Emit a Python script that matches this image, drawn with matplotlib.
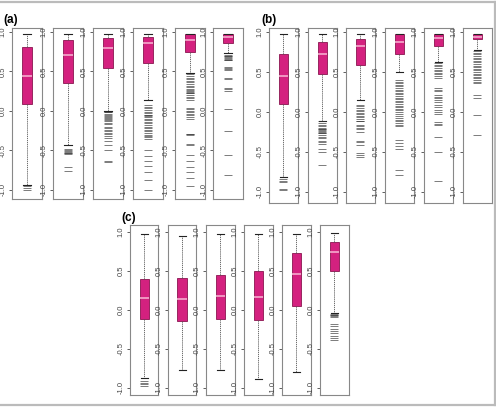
import matplotlib
matplotlib.use("Agg")
import matplotlib.pyplot as plt
from matplotlib.lines import Line2D

plt.rcParams['font.family'] = ['Liberation Sans', 'DejaVu Sans']

W, H = 496, 408

# box stats per panel: (whisker_hi, q3, median, q1, whisker_lo)
stats_a = [
    (0.98, 0.81, 0.44, 0.09, -0.94),
    (0.97, 0.90, 0.71, 0.355, -0.43),
    (0.98, 0.92, 0.79, 0.54, 0.0),
    (0.97, 0.94, 0.855, 0.60, 0.14),
    (0.97, 0.97, 0.90, 0.75, 0.48),
    (0.97, 0.97, 0.93, 0.855, 0.73),
]
fliers_a = [
    [-0.96, -0.98, -1.0],
    [-0.49, -0.5, -0.51, -0.52, -0.53, -0.54, -0.55, -0.72, -0.76],
    [-0.01, -0.02, -0.04, -0.06, -0.07, -0.08, -0.09, -0.1, -0.12, -0.13,
     -0.15, -0.17, -0.2, -0.22, -0.24, -0.26, -0.28, -0.3, -0.32, -0.34,
     -0.38, -0.44, -0.5, -0.64, -0.65],
    [0.07, 0.05, 0.03, 0.01, -0.01, -0.03, -0.05, -0.06, -0.07, -0.08, -0.1,
     -0.12, -0.14, -0.16, -0.18, -0.2, -0.22, -0.24, -0.26, -0.28, -0.31,
     -0.32, -0.33, -0.36, -0.5, -0.58, -0.64, -0.7, -0.78, -0.88, -1.0],
    [0.46, 0.44, 0.42, 0.4, 0.38, 0.36, 0.34, 0.32, 0.3, 0.28, 0.26, 0.25,
     0.24, 0.23, 0.22, 0.2, 0.18, 0.16, 0.14, 0.04, 0.02, 0.0, -0.02, -0.04,
     -0.06, -0.08, -0.1, -0.29, -0.3, -0.31, -0.42, -0.44, -0.56, -0.64,
     -0.72, -0.78, -0.85, -0.96],
    [0.71, 0.7, 0.69, 0.68, 0.67, 0.66, 0.65, 0.64, 0.55, 0.54, 0.53, 0.52,
     0.41, 0.4, 0.29, 0.28, 0.25, 0.02, -0.26, -0.56, -0.81],
]

stats_b = [
    (0.97, 0.725, 0.45, 0.10, -0.81),
    (0.97, 0.88, 0.73, 0.475, -0.11),
    (0.97, 0.91, 0.82, 0.59, 0.15),
    (0.97, 0.97, 0.88, 0.73, 0.50),
    (0.97, 0.97, 0.92, 0.82, 0.63),
    (0.97, 0.97, 0.94, 0.91, 0.775),
]
fliers_b = [
    [-0.84, -0.86, -0.88, -0.96, -0.98],
    [-0.12, -0.14, -0.16, -0.18, -0.2, -0.21, -0.22, -0.23, -0.24, -0.25,
     -0.26, -0.27, -0.29, -0.31, -0.33, -0.37, -0.38, -0.4, -0.46, -0.5,
     -0.67],
    [0.09, 0.07, 0.05, 0.03, 0.01, -0.01, -0.03, -0.05, -0.07, -0.09, -0.11,
     -0.12, -0.16, -0.18, -0.2, -0.22, -0.25, -0.36, -0.38, -0.41, -0.52,
     -0.54, -0.56],
    [0.4, 0.38, 0.36, 0.34, 0.32, 0.3, 0.28, 0.26, 0.24, 0.22, 0.2, 0.18,
     0.16, 0.14, 0.12, 0.1, 0.08, 0.06, 0.04, 0.02, 0.0, -0.02, -0.05, -0.08,
     -0.1, -0.12, -0.14, -0.16, -0.18, -0.35, -0.39, -0.43, -0.47, -0.73,
     -0.79],
    [0.61, 0.59, 0.57, 0.55, 0.53, 0.51, 0.49, 0.47, 0.45, 0.43, 0.3, 0.28,
     0.26, 0.21, 0.19, 0.17, 0.15, 0.12, 0.09, 0.06, 0.03, 0.0, -0.03, -0.13,
     -0.15, -0.17, -0.31, -0.5, -0.87],
    [0.76, 0.74, 0.72, 0.7, 0.68, 0.66, 0.64, 0.62, 0.6, 0.58, 0.56, 0.54,
     0.52, 0.5, 0.48, 0.46, 0.44, 0.42, 0.4, 0.38, 0.36, 0.21, 0.18, -0.04,
     -0.29],
]

stats_c = [
    (0.97, 0.40, 0.155, -0.11, -0.867),
    (0.95, 0.415, 0.14, -0.145, -0.77),
    (0.98, 0.45, 0.184, -0.115, -0.77),
    (0.98, 0.50, 0.17, -0.128, -0.89),
    (0.98, 0.726, 0.457, 0.05, -0.80),
    (0.99, 0.876, 0.748, 0.504, -0.04),
]
fliers_c = [
    [-0.91, -0.93, -0.95, -0.97],
    [],
    [],
    [],
    [],
    [-0.05, -0.06, -0.07, -0.08, -0.09, -0.18, -0.21, -0.24, -0.27, -0.3,
     -0.33, -0.36, -0.38],
]

yticks = [-1.0, -0.5, 0.0, 0.5, 1.0]
ytick_labels = ["-1.0", "-0.5", "0.0", "0.5", "1.0"]

# layout in pixels: lefts, width, top, bottom, ylim, label position
panels = [
    ("(a)", stats_a, fliers_a, [12, 53, 93, 133, 175, 213], 30, 28, 199, (-1.12, 1.05), (3, 23)),
    ("(b)", stats_b, fliers_b, [269, 308, 346, 385, 424, 463], 28.5, 28, 203, (-1.14, 1.05), (261, 23)),
    ("(c)", stats_c, fliers_c, [130, 168, 206, 244, 282, 320], 28.5, 225, 395, (-1.09, 1.09), (121, 221)),
]

BOX = '#d4217f'
EDGE = '#8a1450'
MED = '#f8b8d4'

fig = plt.figure(figsize=(W / 100, H / 100), dpi=100)

for label, stats, fliers, lefts, wpx, top, bot, ylim, lpos in panels:
    for st, fl, left in zip(stats, fliers, lefts):
        ax = fig.add_axes([left / W, 1 - bot / H, wpx / W, (bot - top) / H])
        hi, q3, med, q1, lo = st
        d = dict(med=med, q1=q1, q3=q3, whislo=lo, whishi=hi, fliers=fl)
        ax.bxp([d], positions=[1], widths=0.4, capwidths=0.3, patch_artist=True,
               showfliers=True,
               boxprops=dict(facecolor=BOX, edgecolor=EDGE, linewidth=0.6),
               medianprops=dict(color=MED, linewidth=1.1),
               whiskerprops=dict(color='#555555', linewidth=0.6, linestyle=(0, (1.5, 1.0))),
               capprops=dict(color='#222222', linewidth=0.8),
               flierprops=dict(marker='_', markersize=5.8, markeredgewidth=0.6,
                               markeredgecolor='#333333', alpha=0.75))
        ax.set_xlim(0.4, 1.6)
        ax.set_ylim(*ylim)
        ax.set_xticks([])
        ax.set_yticks(yticks)
        ax.set_yticklabels(ytick_labels, rotation=90, va='center')
        ax.tick_params(axis='y', length=2.5, width=0.6, pad=1.2, labelsize=5.5,
                       colors='#444444')
        for s in ax.spines.values():
            s.set_color('#888888')
            s.set_linewidth(0.8)
    fig.text(lpos[0] / W, 1 - lpos[1] / H, label, fontsize=8.5, fontweight='bold',
             ha='left', va='baseline')

# light grey frame around the figure
for xs, ys in [([0, 494.5], [2, 2]), ([494.5, 494.5], [2, 404.5]), ([0, 494.5], [404.5, 404.5])]:
    fig.add_artist(Line2D([x / W for x in xs], [1 - y / H for y in ys],
                          color='#bbbbbb', linewidth=1.6))

fig.savefig("out.png", dpi=100)
